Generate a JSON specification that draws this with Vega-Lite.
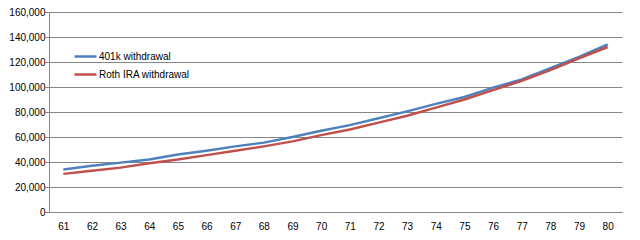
{
  "$schema": "https://vega.github.io/schema/vega-lite/v6.json",
  "width": 573,
  "height": 200,
  "autosize": {"type": "none"},
  "padding": {"left": 49, "top": 12, "right": 18, "bottom": 28},
  "background": "white",
  "config": {
    "view": {"stroke": null},
    "font": "Liberation Sans"
  },
  "data": {
    "values": [
      {"age": 61, "series": "401k withdrawal", "value": 34000},
      {"age": 62, "series": "401k withdrawal", "value": 37000},
      {"age": 63, "series": "401k withdrawal", "value": 39500},
      {"age": 64, "series": "401k withdrawal", "value": 42000},
      {"age": 65, "series": "401k withdrawal", "value": 46000},
      {"age": 66, "series": "401k withdrawal", "value": 49000},
      {"age": 67, "series": "401k withdrawal", "value": 52500},
      {"age": 68, "series": "401k withdrawal", "value": 55500},
      {"age": 69, "series": "401k withdrawal", "value": 60000},
      {"age": 70, "series": "401k withdrawal", "value": 65000},
      {"age": 71, "series": "401k withdrawal", "value": 69500},
      {"age": 72, "series": "401k withdrawal", "value": 75000},
      {"age": 73, "series": "401k withdrawal", "value": 80500},
      {"age": 74, "series": "401k withdrawal", "value": 86500},
      {"age": 75, "series": "401k withdrawal", "value": 92000},
      {"age": 76, "series": "401k withdrawal", "value": 99500},
      {"age": 77, "series": "401k withdrawal", "value": 106000},
      {"age": 78, "series": "401k withdrawal", "value": 115000},
      {"age": 79, "series": "401k withdrawal", "value": 124000},
      {"age": 80, "series": "401k withdrawal", "value": 134000},
      {"age": 61, "series": "Roth IRA withdrawal", "value": 30500},
      {"age": 62, "series": "Roth IRA withdrawal", "value": 33000},
      {"age": 63, "series": "Roth IRA withdrawal", "value": 35500},
      {"age": 64, "series": "Roth IRA withdrawal", "value": 39000},
      {"age": 65, "series": "Roth IRA withdrawal", "value": 42000},
      {"age": 66, "series": "Roth IRA withdrawal", "value": 45500},
      {"age": 67, "series": "Roth IRA withdrawal", "value": 49000},
      {"age": 68, "series": "Roth IRA withdrawal", "value": 52500},
      {"age": 69, "series": "Roth IRA withdrawal", "value": 56500},
      {"age": 70, "series": "Roth IRA withdrawal", "value": 61500},
      {"age": 71, "series": "Roth IRA withdrawal", "value": 66000},
      {"age": 72, "series": "Roth IRA withdrawal", "value": 71500},
      {"age": 73, "series": "Roth IRA withdrawal", "value": 77000},
      {"age": 74, "series": "Roth IRA withdrawal", "value": 83500},
      {"age": 75, "series": "Roth IRA withdrawal", "value": 90000},
      {"age": 76, "series": "Roth IRA withdrawal", "value": 97500},
      {"age": 77, "series": "Roth IRA withdrawal", "value": 105000},
      {"age": 78, "series": "Roth IRA withdrawal", "value": 113500},
      {"age": 79, "series": "Roth IRA withdrawal", "value": 123000},
      {"age": 80, "series": "Roth IRA withdrawal", "value": 132000}
    ]
  },
  "mark": {"type": "line", "strokeWidth": 2.5},
  "encoding": {
    "x": {
      "field": "age",
      "type": "ordinal",
      "scale": {"type": "point", "padding": 0.5},
      "axis": {
        "title": null,
        "labelAngle": 0,
        "ticks": false,
        "labelPadding": 9,
        "labelFontSize": 10,
        "labelColor": "#000000",
        "domainColor": "#868686",
        "grid": false
      }
    },
    "y": {
      "field": "value",
      "type": "quantitative",
      "scale": {"domain": [0, 160000], "nice": false},
      "axis": {
        "title": null,
        "values": [0, 20000, 40000, 60000, 80000, 100000, 120000, 140000, 160000],
        "format": ",.0f",
        "ticks": true,
        "tickSize": 4,
        "tickColor": "#868686",
        "labelPadding": 0,
        "labelFontSize": 10,
        "labelColor": "#000000",
        "domainColor": "#868686",
        "gridColor": "#868686",
        "gridWidth": 1
      }
    },
    "color": {
      "field": "series",
      "type": "nominal",
      "scale": {"domain": ["401k withdrawal", "Roth IRA withdrawal"], "range": ["#4F81BD", "#C0504D"]},
      "legend": {
        "title": null,
        "orient": "none",
        "legendX": 24,
        "legendY": 32,
        "symbolType": "stroke",
        "symbolSize": 484,
        "symbolStrokeWidth": 2.5,
        "labelFontSize": 10,
        "labelColor": "#000000",
        "labelOffset": 1,
        "rowPadding": -3
      }
    }
  }
}
